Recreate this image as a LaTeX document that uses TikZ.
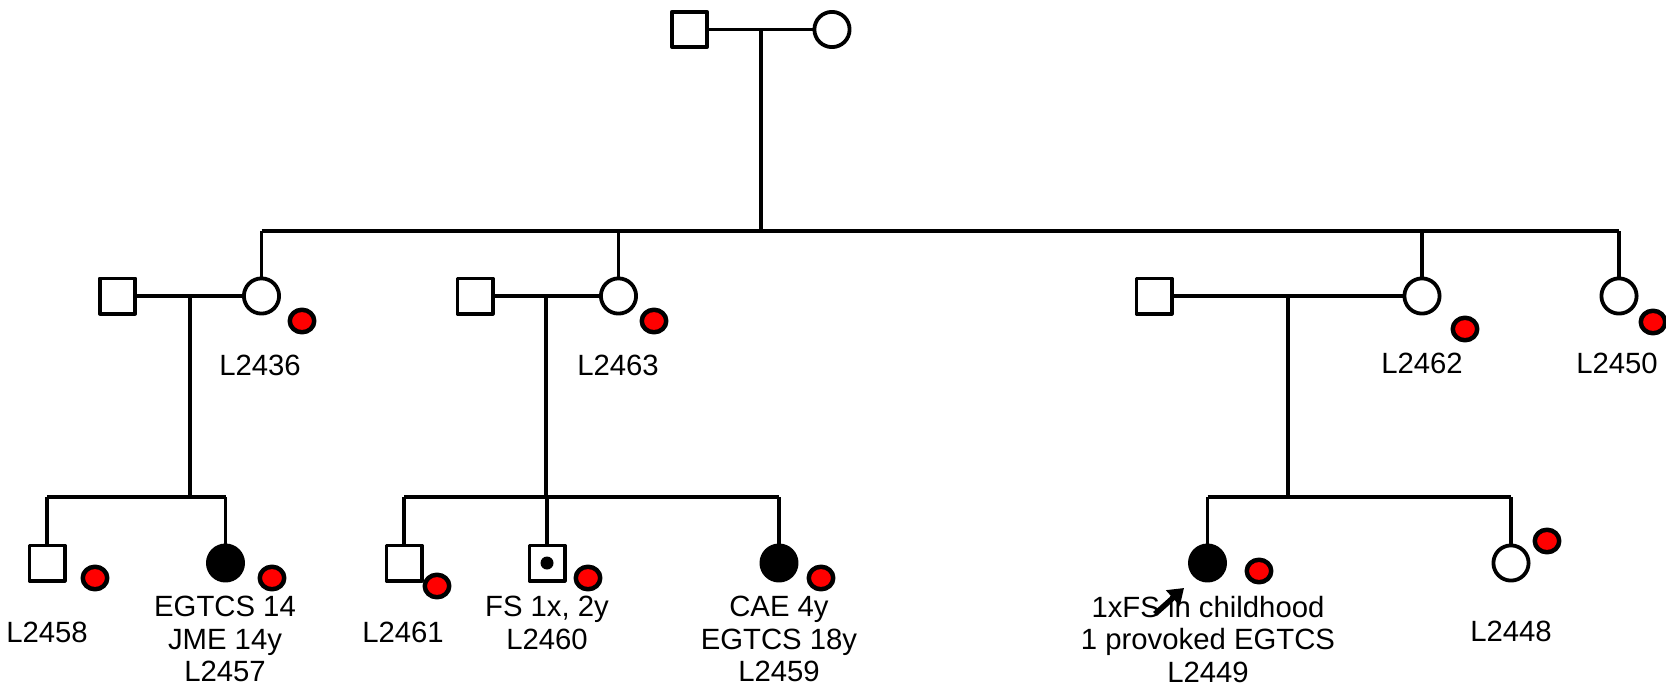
\documentclass[tikz,border=0pt]{standalone}
\usepackage{fontspec}
\setmainfont{Liberation Sans}
\usetikzlibrary{arrows.meta,shapes.geometric}
\begin{document}
\begin{tikzpicture}[x=1pt,y=-1pt,line join=round,
  conn/.style={line width=3.7pt},
  male/.style={draw, rectangle, line width=3.8pt, minimum size=35.2pt, inner sep=0pt, fill=white},
  female/.style={draw, circle, line width=3.8pt, minimum size=35.2pt, inner sep=0pt, fill=white},
  aff/.style={fill=black},
  dna/.style={draw, ellipse, line width=4.5pt, fill=red, minimum width=24.5pt, minimum height=22.5pt, inner sep=0pt},
  lbl/.style={anchor=north, align=center, inner sep=0pt, font=\fontsize{29.3}{32.5}\selectfont},
  proband/.style={line width=5.5pt, -{Triangle[length=15pt,width=20pt]}},
]
\useasboundingbox (0,0) rectangle (1666,686);
% generation I
\node[male] (I1) at (689.5,29.5) {};
\node[female] (I2) at (832,29.5) {};
\draw[conn] (I1.east) -- (I2.west);
\coordinate (dI) at (761,29.5);
\coordinate (sI) at (761,231);
\draw[conn] (dI) -- (sI);
\coordinate (sIL) at (261.5,231);
\coordinate (sIR) at (1619,231);
\draw[conn] (sIL) -- (sIR);
% generation II
\node[male] (A1) at (117.5,296) {};
\node[female] (A2) at (261.5,296) {};
\node[dna] (dA2) at (302,321) {};
\node[lbl] (lA2) at (260,354.6) {L2436};
\node[male] (B1) at (475,296) {};
\node[female] (B2) at (618.5,296) {};
\node[dna] (dB2) at (654,321) {};
\node[lbl] (lB2) at (618,354.6) {L2463};
\node[male] (C1) at (1154,296) {};
\node[female] (C2) at (1422,296) {};
\node[dna] (dC2) at (1465,329) {};
\node[lbl] (lC2) at (1422,353) {L2462};
\node[female] (D2) at (1619,296) {};
\node[dna] (dD2) at (1653,322) {};
\node[lbl] (lD2) at (1617,353) {L2450};
\draw[conn] (sIL) -- (A2.north);
\draw[conn] (B2.north |- sIL) -- (B2.north);
\draw[conn] (C2.north |- sIL) -- (C2.north);
\draw[conn] (sIR) -- (D2.north);
\draw[conn] (A1.east) -- (A2.west);
\draw[conn] (B1.east) -- (B2.west);
\draw[conn] (C1.east) -- (C2.west);
% descent lines
\coordinate (dA) at (190,296);
\coordinate (sA) at (190,497);
\coordinate (dB) at (546,296);
\coordinate (sB) at (546,497);
\coordinate (dC) at (1288,296);
\coordinate (sC) at (1288,497);
\draw[conn] (dA) -- (sA);
\draw[conn] (dB) -- (sB);
\draw[conn] (dC) -- (sC);
% generation III
\node[male] (E1) at (47,563) {};
\node[dna] (dE1) at (95,578) {};
\node[lbl] (lE1) at (47,621.6) {L2458};
\node[female,aff] (E2) at (225.5,563) {};
\node[dna] (dE2) at (272,578) {};
\node[lbl] (lE2) at (225,596) {EGTCS 14\\JME 14y\\L2457};
\draw[conn] (E1.north |- sA) -- (E2.north |- sA);
\draw[conn] (E1.north |- sA) -- (E1.north);
\draw[conn] (E2.north |- sA) -- (E2.north);

\node[male] (F1) at (404,563) {};
\node[dna] (dF1) at (437,586) {};
\node[lbl] (lF1) at (403,621.6) {L2461};
\node[male] (F2) at (547,563) {};
\node[circle, fill=black, minimum size=13pt, inner sep=0pt] (cF2) at (F2.center) {};
\node[dna] (dF2) at (588,578) {};
\node[lbl] (lF2) at (547,596) {FS 1x, 2y\\L2460};
\node[female,aff] (F3) at (779,563) {};
\node[dna] (dF3) at (821,578) {};
\node[lbl] (lF3) at (779,596) {CAE 4y\\EGTCS 18y\\L2459};
\draw[conn] (F1.north |- sB) -- (F3.north |- sB);
\draw[conn] (F1.north |- sB) -- (F1.north);
\draw[conn] (F2.north |- sB) -- (F2.north);
\draw[conn] (F3.north |- sB) -- (F3.north);

\node[female,aff] (G1) at (1207.5,563) {};
\node[dna] (dG1) at (1259,571) {};
\node[lbl] (lG1) at (1208,596) {1xFS in childhood\\1 provoked EGTCS\\L2449};
\node[female] (G2) at (1511,563) {};
\node[dna] (dG2) at (1547,541) {};
\node[lbl] (lG2) at (1511,620.6) {L2448};
\draw[conn] (G1.north |- sC) -- (G2.north |- sC);
\draw[conn] (G1.north |- sC) -- (G1.north);
\draw[conn] (G2.north |- sC) -- (G2.north);
\coordinate (pa) at (1155,614);
\coordinate (pb) at (1184,588);
\draw[proband] (pa) -- (pb);
\end{tikzpicture}
\end{document}
